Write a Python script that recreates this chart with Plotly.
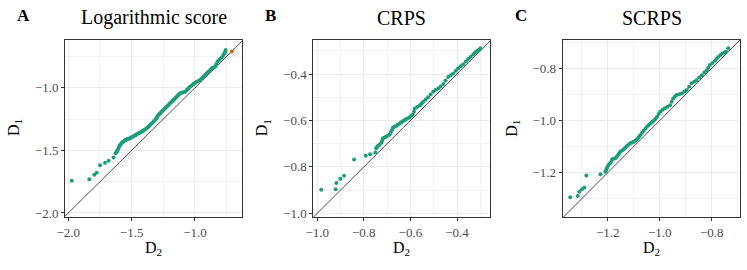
import plotly.graph_objects as go

# ---------------- data ----------------
a_d2 = [-1.973, -1.834, -1.795, -1.776, -1.750, -1.710, -1.681, -1.643, -1.626,
        -1.620, -1.615, -1.610, -1.603, -1.597, -1.592, -1.583, -1.575, -1.566, -1.556,
        -1.547, -1.539, -1.528, -1.518, -1.508, -1.499, -1.489, -1.478, -1.469, -1.460,
        -1.450, -1.440, -1.430, -1.420, -1.410, -1.400, -1.390, -1.381, -1.370, -1.362,
        -1.355, -1.345, -1.335, -1.325, -1.315, -1.305, -1.297, -1.289, -1.279, -1.270,
        -1.260, -1.250, -1.240, -1.230, -1.220, -1.210, -1.200, -1.190, -1.180, -1.171,
        -1.162, -1.153, -1.144, -1.135, -1.127, -1.118, -1.105, -1.092, -1.078, -1.065,
        -1.052, -1.039, -1.025, -1.012, -0.999, -0.986, -0.973, -0.960, -0.947, -0.934,
        -0.921, -0.907, -0.894, -0.880, -0.867, -0.854, -0.841, -0.832, -0.823, -0.811,
        -0.800, -0.788, -0.776, -0.768, -0.762, -0.758]
a_d1 = [-1.742, -1.731, -1.694, -1.678, -1.619, -1.599, -1.583, -1.557, -1.524,
        -1.515, -1.505, -1.497, -1.482, -1.468, -1.457, -1.447, -1.438, -1.431, -1.424,
        -1.418, -1.412, -1.410, -1.405, -1.400, -1.396, -1.389, -1.383, -1.378, -1.372,
        -1.366, -1.362, -1.356, -1.351, -1.344, -1.337, -1.330, -1.324, -1.313, -1.305,
        -1.298, -1.288, -1.279, -1.268, -1.258, -1.243, -1.230, -1.218, -1.208, -1.198,
        -1.188, -1.178, -1.168, -1.158, -1.148, -1.138, -1.128, -1.118, -1.108, -1.098,
        -1.090, -1.081, -1.072, -1.063, -1.054, -1.045, -1.041, -1.037, -1.032, -1.018,
        -1.005, -0.992, -0.982, -0.971, -0.960, -0.953, -0.946, -0.939, -0.926, -0.912,
        -0.899, -0.885, -0.872, -0.858, -0.845, -0.839, -0.832, -0.812, -0.792, -0.780,
        -0.768, -0.757, -0.739, -0.725, -0.713, -0.699]
a_d2_other = [-0.710]
a_d1_other = [-0.710]

b_d2 = [-0.983, -0.921, -0.918, -0.901, -0.885, -0.842, -0.792, -0.773, -0.751,
        -0.747, -0.743, -0.739, -0.732, -0.725, -0.721, -0.718, -0.711, -0.704, -0.697,
        -0.689, -0.684, -0.679, -0.675, -0.668, -0.661, -0.654, -0.646, -0.639, -0.632,
        -0.625, -0.618, -0.610, -0.602, -0.596, -0.590, -0.585, -0.581, -0.570, -0.559,
        -0.552, -0.545, -0.535, -0.524, -0.513, -0.502, -0.492, -0.481, -0.470, -0.459,
        -0.449, -0.438, -0.427, -0.416, -0.405, -0.395, -0.384, -0.373, -0.362, -0.352,
        -0.341, -0.330, -0.322, -0.313, -0.306, -0.299]
b_d1 = [-0.899, -0.896, -0.869, -0.851, -0.838, -0.768, -0.752, -0.746, -0.738,
        -0.720, -0.714, -0.709, -0.703, -0.696, -0.686, -0.677, -0.673, -0.670, -0.665,
        -0.660, -0.650, -0.641, -0.630, -0.627, -0.624, -0.618, -0.613, -0.608, -0.603,
        -0.598, -0.594, -0.590, -0.585, -0.580, -0.575, -0.562, -0.548, -0.541, -0.534,
        -0.527, -0.519, -0.510, -0.500, -0.488, -0.476, -0.469, -0.462, -0.453, -0.443,
        -0.428, -0.412, -0.405, -0.397, -0.386, -0.375, -0.366, -0.357, -0.346, -0.335,
        -0.325, -0.314, -0.307, -0.300, -0.295, -0.289]

c_d2 = [-1.344, -1.315, -1.309, -1.299, -1.290, -1.282, -1.228,
        -1.209, -1.206, -1.203, -1.200, -1.196, -1.191, -1.186, -1.183, -1.177, -1.171,
        -1.165, -1.160, -1.156, -1.152, -1.145, -1.138, -1.132, -1.126, -1.119, -1.113,
        -1.106, -1.100, -1.093, -1.087, -1.081, -1.075, -1.068, -1.062, -1.055, -1.049,
        -1.042, -1.036, -1.029, -1.023, -1.016, -1.010, -1.004, -0.998, -0.989, -0.980,
        -0.970, -0.960, -0.954, -0.948, -0.941, -0.935, -0.925, -0.915, -0.905, -0.896,
        -0.887, -0.877, -0.867, -0.858, -0.848, -0.838, -0.828, -0.819, -0.813, -0.807,
        -0.797, -0.787, -0.781, -0.775, -0.766, -0.758, -0.751, -0.745, -0.736]
c_d1 = [-1.294, -1.289, -1.273, -1.264, -1.257, -1.211, -1.206,
        -1.196, -1.190, -1.183, -1.176, -1.170, -1.164, -1.158, -1.148, -1.147, -1.145,
        -1.138, -1.132, -1.126, -1.120, -1.115, -1.110, -1.104, -1.098, -1.092, -1.087,
        -1.084, -1.081, -1.077, -1.072, -1.064, -1.056, -1.047, -1.039, -1.031, -1.024,
        -1.017, -1.011, -1.006, -1.001, -0.993, -0.985, -0.975, -0.966, -0.959, -0.953,
        -0.947, -0.941, -0.928, -0.915, -0.908, -0.902, -0.899, -0.896, -0.889, -0.883,
        -0.870, -0.857, -0.851, -0.845, -0.835, -0.826, -0.816, -0.807, -0.797, -0.787,
        -0.779, -0.771, -0.763, -0.756, -0.749, -0.743, -0.739, -0.736, -0.723]

titles = ["Logarithmic score", "CRPS", "SCRPS"]
letters = ["A", "B", "C"]

# ---------------- layout geometry ----------------
W, H = 747, 270
panels = [
    dict(px=(65, 242), xr=[-2.026, -0.629], yr=[-2.032, -0.619],
         xt=[-2.0, -1.5, -1.0], yt=[-2.0, -1.5, -1.0], minor=0.25),
    dict(px=(313.3, 490.3), xr=[-1.017, -0.257], yr=[-1.016, -0.253],
         xt=[-1.0, -0.8, -0.6, -0.4], yt=[-1.0, -0.8, -0.6, -0.4], minor=0.1),
    dict(px=(562.7, 740.3), xr=[-1.373, -0.690], yr=[-1.370, -0.691],
         xt=[-1.2, -1.0, -0.8], yt=[-1.2, -1.0, -0.8], minor=0.1),
]
ytop, ybot = 40, 217
ydom = [1 - ybot / H, 1 - ytop / H]

GREEN = "#1B9E77"
ORANGE = "#D95F02"
FONT = "Liberation Serif"

def fmt(v):
    return ("\u2212" if v < 0 else "") + f"{abs(v):.1f}"

fig = go.Figure()
series = [(a_d2, a_d1), (b_d2, b_d1), (c_d2, c_d1)]

for i, (p, (xs, ys)) in enumerate(zip(panels, series)):
    n = "" if i == 0 else str(i + 1)
    xa, ya = "x" + n, "y" + n
    lo = min(p["xr"][0], p["yr"][0]) - 1
    hi = max(p["xr"][1], p["yr"][1]) + 1
    fig.add_trace(go.Scatter(x=[lo, hi], y=[lo, hi], mode="lines",
                             line=dict(color="black", width=0.7),
                             xaxis=xa, yaxis=ya, hoverinfo="skip", showlegend=False))
    fig.add_trace(go.Scatter(x=xs, y=ys, mode="markers",
                             marker=dict(color=GREEN, size=4, line=dict(width=0)),
                             xaxis=xa, yaxis=ya, showlegend=False))
    if i == 0:
        fig.add_trace(go.Scatter(x=a_d2_other, y=a_d1_other, mode="markers",
                                 marker=dict(color=ORANGE, size=4, line=dict(width=0)),
                                 xaxis=xa, yaxis=ya, showlegend=False))
    common = dict(showline=True, mirror=True, linecolor="#333333", linewidth=1,
                  ticks="outside", ticklen=3, tickcolor="#333333", tickwidth=1,
                  showgrid=True, gridcolor="#EBEBEB", gridwidth=1, automargin=False,
                  zeroline=False, tickfont=dict(family=FONT, size=13, color="#4D4D4D"),
                  minor=dict(showgrid=True, gridcolor="#F2F2F2", gridwidth=0.6,
                             dtick=p["minor"], ticks=""))
    fig.layout["xaxis" + n] = dict(
        domain=[p["px"][0] / W, p["px"][1] / W], range=p["xr"], anchor=ya,
        tickvals=p["xt"], ticktext=[fmt(v) for v in p["xt"]], tick0=p["xt"][0], **common)
    fig.layout["yaxis" + n] = dict(
        domain=ydom, range=p["yr"], anchor=xa,
        tickvals=p["yt"], ticktext=[fmt(v) for v in p["yt"]], tick0=p["yt"][0], **common)

    cx = (p["px"][0] + p["px"][1]) / 2
    fig.add_annotation(x=cx / W, y=1 - 18 / H, xref="paper", yref="paper",
                       text=titles[i], showarrow=False,
                       font=dict(family=FONT, size=20, color="black"),
                       xanchor="center", yanchor="middle")
    fig.add_annotation(x=(p["px"][0] - 50) / W, y=1 - 16 / H, xref="paper", yref="paper",
                       text="<b>" + letters[i] + "</b>", showarrow=False,
                       font=dict(family=FONT, size=17, color="black"),
                       xanchor="left", yanchor="middle")
    fig.add_annotation(x=cx / W, y=1 - 248 / H, xref="paper", yref="paper",
                       text="D<sub>2</sub>", showarrow=False,
                       font=dict(family=FONT, size=16, color="black"),
                       xanchor="center", yanchor="middle")
    fig.add_annotation(x=(p["px"][0] - 51) / W, y=1 - 128 / H, xref="paper", yref="paper",
                       text="D<sub>1</sub>", showarrow=False, textangle=-90,
                       font=dict(family=FONT, size=16, color="black"),
                       xanchor="center", yanchor="middle")

fig.update_layout(width=W, height=H, margin=dict(l=0, r=0, t=0, b=0, autoexpand=False),
                  paper_bgcolor="white", plot_bgcolor="white",
                  font=dict(family=FONT))
fig.write_html("out.html", config={"displayModeBar": False},
               post_script="document.body.style.margin='0';document.body.style.padding='0';")
